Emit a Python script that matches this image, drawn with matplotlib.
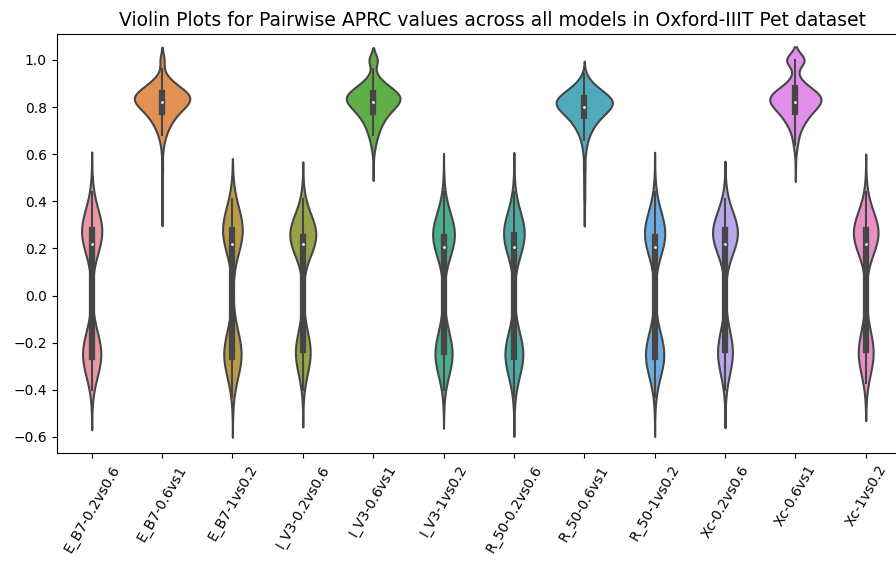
import numpy as np
import matplotlib
matplotlib.use("Agg")
import matplotlib.pyplot as plt
import seaborn as sns

labels = ["E_B7-0.2vs0.6", "E_B7-0.6vs1", "E_B7-1vs0.2",
          "I_V3-0.2vs0.6", "I_V3-0.6vs1", "I_V3-1vs0.2",
          "R_50-0.2vs0.6", "R_50-0.6vs1", "R_50-1vs0.2",
          "Xc-0.2vs0.6", "Xc-0.6vs1", "Xc-1vs0.2"]

# APRC values (binned) and how often each one occurs
bi_values = [-0.43, -0.40, -0.37, -0.33, -0.29, -0.26, -0.23, -0.20, -0.16, -0.10, 0.02,
             0.14, 0.19, 0.22, 0.25, 0.28, 0.31, 0.35, 0.38, 0.41, 0.44]
uni_values = [0.35, 0.42, 0.48, 0.54,
              0.60, 0.62, 0.64, 0.66, 0.68, 0.70, 0.72, 0.74, 0.76, 0.78,
              0.80, 0.82, 0.84, 0.86, 0.88, 0.90, 0.92, 0.94, 0.96, 1.00]

e_b7_02vs06 = [0, 1, 2, 8, 26, 40, 35, 20, 8, 2, 2, 2, 3, 21, 40, 45, 28, 11, 4, 1, 1]
e_b7_06vs1 = [1, 1, 1, 2, 1, 1, 2, 3, 5, 7, 10, 13, 17, 23, 29, 37, 41, 35, 25, 16, 9, 4, 1, 8]
e_b7_1vs02 = [1, 1, 3, 11, 24, 36, 31, 20, 10, 4, 2, 2, 4, 22, 34, 38, 32, 17, 6, 1, 0]
i_v3_02vs06 = [0, 1, 2, 6, 15, 28, 30, 18, 8, 4, 2, 2, 10, 30, 72, 40, 20, 8, 3, 1, 0]
i_v3_06vs1 = [0, 0, 0, 1, 1, 2, 3, 4, 6, 8, 10, 13, 17, 22, 28, 35, 39, 33, 24, 15, 8, 4, 1, 16]
i_v3_1vs02 = [0, 1, 2, 7, 20, 45, 23, 20, 10, 4, 3, 3, 12, 30, 50, 36, 20, 9, 3, 1, 1]
r_50_02vs06 = [1, 1, 3, 9, 24, 38, 34, 20, 8, 2, 2, 2, 6, 30, 45, 41, 20, 9, 3, 1, 1]
r_50_06vs1 = [1, 2, 2, 3, 2, 2, 3, 4, 6, 9, 12, 16, 21, 28, 36, 40, 35, 26, 17, 10, 5, 2, 0, 0]
r_50_1vs02 = [1, 0, 3, 10, 26, 40, 35, 18, 7, 3, 2, 1, 4, 30, 48, 36, 22, 9, 3, 1, 1]
xc_02vs06 = [0, 1, 2, 6, 16, 28, 30, 18, 9, 4, 3, 2, 12, 20, 54, 54, 26, 10, 3, 2, 0]
xc_06vs1 = [0, 0, 0, 1, 1, 2, 3, 4, 5, 7, 10, 15, 19, 24, 31, 42, 40, 36, 23, 12, 5, 3, 1, 42]
xc_1vs02 = [0, 0, 2, 7, 16, 28, 30, 18, 9, 4, 3, 2, 12, 20, 54, 52, 26, 11, 3, 2, 1]

groups = [(bi_values, e_b7_02vs06), (uni_values, e_b7_06vs1), (bi_values, e_b7_1vs02),
          (bi_values, i_v3_02vs06), (uni_values, i_v3_06vs1), (bi_values, i_v3_1vs02),
          (bi_values, r_50_02vs06), (uni_values, r_50_06vs1), (bi_values, r_50_1vs02),
          (bi_values, xc_02vs06), (uni_values, xc_06vs1), (bi_values, xc_1vs02)]

data = [np.repeat(v, c) for v, c in groups]


def kde_curve(x, cut=2, gridsize=100):
    # gaussian kde with scott bandwidth, like seaborn's violinplot
    n = len(x)
    bw = n ** (-1 / 5) * x.std(ddof=1)
    support = np.linspace(x.min() - cut * bw, x.max() + cut * bw, gridsize)
    z = (support[:, None] - x[None, :]) / bw
    dens = np.exp(-0.5 * z ** 2).sum(axis=1) / (n * bw * np.sqrt(2 * np.pi))
    return support, dens


colors = sns.color_palette(sns.husl_palette(len(labels), l=.7), desat=.75)
lum = min((max(c) + min(c)) / 2 for c in colors) * .6
gray = matplotlib.colors.rgb2hex((lum, lum, lum))

fig = plt.figure(figsize=(8.96, 5.63), dpi=100)
ax = fig.add_axes([56.5 / 896, 110 / 563, 844.4 / 896, 419 / 563])

curves = [kde_curve(d) for d in data]
max_dens = max(c[1].max() for c in curves)

for i, (d, (support, dens)) in enumerate(zip(data, curves)):
    half = dens / max_dens * 0.4
    ax.fill_betweenx(support, i - half, i + half, facecolor=colors[i],
                     edgecolor=gray, lw=1.5)
    q25, q50, q75 = np.percentile(d, [25, 50, 75])
    lim = 1.5 * (q75 - q25)
    h1 = np.min(d[d >= q25 - lim])
    h2 = np.max(d[d <= q75 + lim])
    ax.plot([i, i], [h1, h2], lw=1.5, color=gray)
    ax.plot([i, i], [q25, q75], lw=4.5, color=gray)
    ax.scatter(i, q50, zorder=3, color="white", edgecolor=gray, s=9)

ax.set_xticks(range(len(labels)))
ax.set_xticklabels(labels, rotation=60)
ax.set_xlim(-0.5, len(labels) - 0.5)
ax.set_ylim(-0.668, 1.110)
ax.set_title("Violin Plots for Pairwise APRC values across all models in Oxford-IIIT Pet dataset",
             fontsize=13.5, x=0.516)

plt.savefig("out.png", dpi=100)
